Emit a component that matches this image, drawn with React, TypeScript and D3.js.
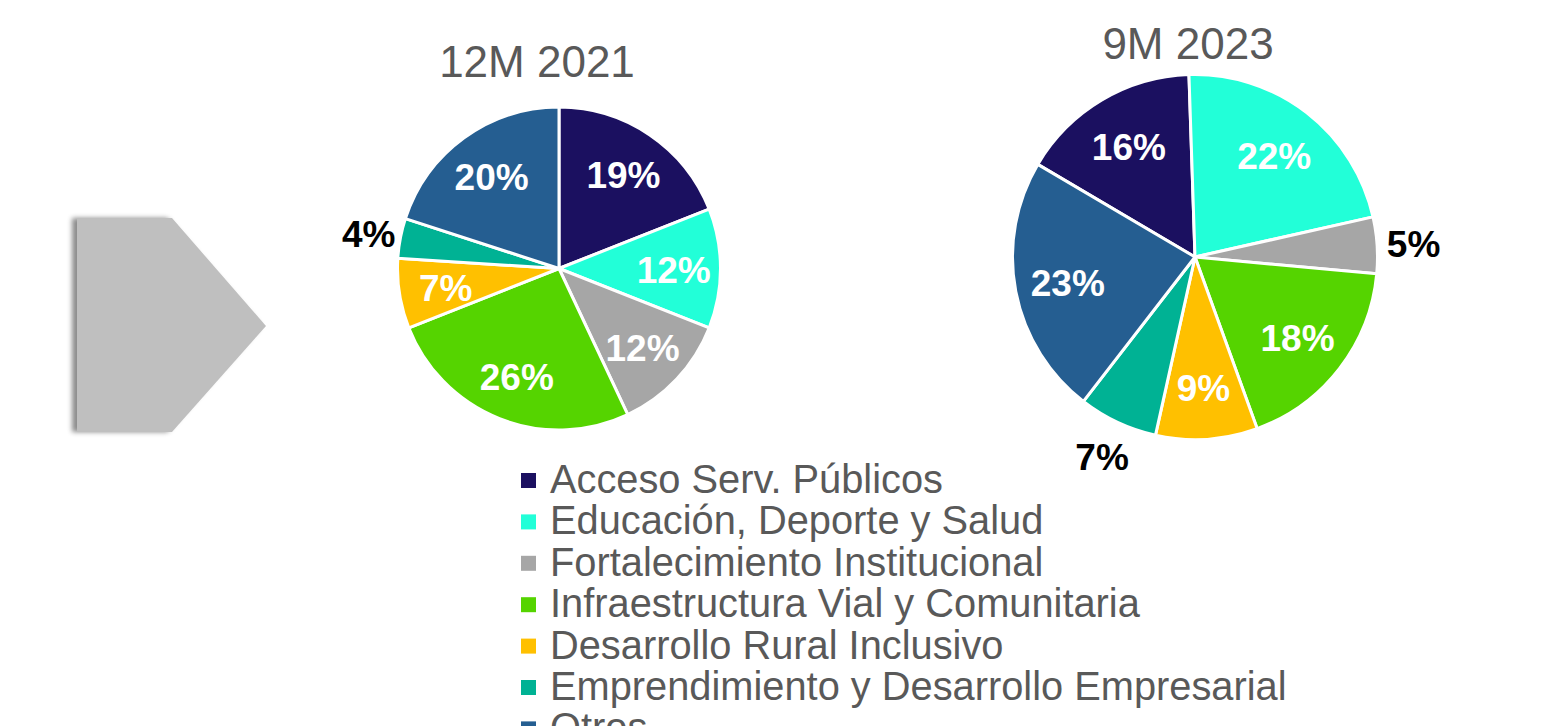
import { useMemo } from 'react'
import { pie, arc } from 'd3'

// categories and colours, in legend order
const categories = [
  'Acceso Serv. Públicos',
  'Educación, Deporte y Salud',
  'Fortalecimiento Institucional',
  'Infraestructura Vial y Comunitaria',
  'Desarrollo Rural Inclusivo',
  'Emprendimiento y Desarrollo Empresarial',
  'Otros',
]
const colors = ['#1b1060', '#22ffd8', '#a6a6a6', '#55d400', '#ffc000', '#00b294', '#255e91']

// shares in %
const values2021 = [19, 12, 12, 26, 7, 4, 20]
const values2023 = [16, 22, 5, 18, 9, 7, 23]

// slices whose label sits outside the pie
const outside2021 = ['Emprendimiento y Desarrollo Empresarial']
const outside2023 = ['Fortalecimiento Institucional', 'Emprendimiento y Desarrollo Empresarial']

const FONT = 'Arial, "Liberation Sans", sans-serif'

type PieProps = {
  title: string
  values: number[]
  outside: string[]
  cx: number
  cy: number
  r: number
  startDeg: number
  titleY: number
  titleX: number
}

function Pie({ title, values, outside, cx, cy, r, startDeg, titleY, titleX }: PieProps) {
  const arcs = useMemo(() => {
    const start = (startDeg * Math.PI) / 180
    return pie<number>()
      .sort(null)
      .value((d) => d)
      .startAngle(start)
      .endAngle(start + 2 * Math.PI)(values)
  }, [values, startDeg])

  const sliceArc = arc<any>().innerRadius(0).outerRadius(r)
  const inLabel = arc<any>().innerRadius(r * 0.71).outerRadius(r * 0.71)
  const outLabel = arc<any>().innerRadius(r * 1.2).outerRadius(r * 1.2)

  return (
    <g>
      <text
        x={titleX}
        y={titleY}
        textAnchor="middle"
        fontFamily={FONT}
        fontSize={44}
        fill="#595959"
      >
        {title}
      </text>
      <g transform={`translate(${cx},${cy})`}>
        {arcs.map((a, i) => (
          <path
            key={categories[i]}
            d={sliceArc(a) || ''}
            fill={colors[i]}
            stroke="#ffffff"
            strokeWidth={3}
            strokeLinejoin="round"
          />
        ))}
        {arcs.map((a, i) => {
          const isOut = outside.includes(categories[i])
          const [x, y] = (isOut ? outLabel : inLabel).centroid(a)
          return (
            <text
              key={'l' + i}
              x={x}
              y={y + 2}
              textAnchor="middle"
              dominantBaseline="central"
              fontFamily={FONT}
              fontWeight="bold"
              fontSize={37}
              fill={isOut ? '#000000' : '#ffffff'}
            >
              {values[i]}%
            </text>
          )
        })}
      </g>
    </g>
  )
}

export default function App() {
  const legendX = 521
  const legendY = 493
  const legendStep = 41.4

  return (
    <svg
      width={1547}
      height={726}
      style={{ position: 'absolute', left: 0, top: 0, background: '#fff' }}
    >
      <defs>
        <filter id="arrowShadow" x="-20%" y="-20%" width="140%" height="140%">
          <feDropShadow dx={-5} dy={0} stdDeviation={2.5} floodColor="#000" floodOpacity={0.45} />
        </filter>
      </defs>

      {/* chevron arrow */}
      <path
        d="M77,218 L172,218 L266,326 L172,432 L77,432 Z"
        fill="#bfbfbf"
        filter="url(#arrowShadow)"
      />

      <Pie
        title="12M 2021"
        values={values2021}
        outside={outside2021}
        cx={559}
        cy={268.5}
        r={161.5}
        startDeg={0}
        titleX={537}
        titleY={77}
      />
      <Pie
        title="9M 2023"
        values={values2023}
        outside={outside2023}
        cx={1195}
        cy={257}
        r={182.5}
        startDeg={-59.5}
        titleX={1188}
        titleY={59}
      />

      {/* legend */}
      {categories.map((c, i) => (
        <g key={c} transform={`translate(${legendX},${legendY + i * legendStep})`}>
          <rect x={0} y={-20} width={15} height={15} fill={colors[i]} />
          <text x={29} y={0} fontFamily={FONT} fontSize={39.8} fill="#595959">
            {c}
          </text>
        </g>
      ))}
    </svg>
  )
}
